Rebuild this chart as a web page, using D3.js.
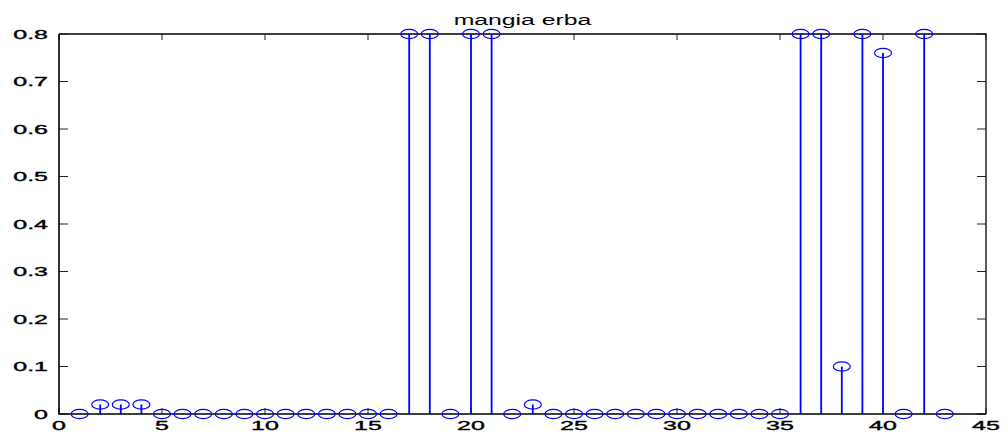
<!DOCTYPE html>
<html>
<head>
<meta charset="utf-8">
<script src="https://cdn.jsdelivr.net/npm/d3@7"></script>
<style>
  html, body { margin: 0; padding: 0; background: #fff; }
  svg { display: block; }
  text { font-family: "Liberation Sans", Arial, Helvetica, sans-serif; fill: #000; }
</style>
</head>
<body>
<svg id="chart" width="1008" height="433"></svg>
<script>
// Stem plot data: index 1..43 and their values
const indices = d3.range(1, 44);
const values = [
  0, 0.02, 0.02, 0.02, 0, 0, 0, 0, 0, 0,
  0, 0, 0, 0, 0, 0, 0.8, 0.8, 0, 0.8,
  0.8, 0, 0.02, 0, 0, 0, 0, 0, 0, 0,
  0, 0, 0, 0, 0, 0.8, 0.8, 0.1, 0.8, 0.76,
  0, 0.8, 0
];
const xTicks = [0, 5, 10, 15, 20, 25, 30, 35, 40, 45];
const yTicks = [0, 0.1, 0.2, 0.3, 0.4, 0.5, 0.6, 0.7, 0.8];
const yTickLabels = ["0", "0.1", "0.2", "0.3", "0.4", "0.5", "0.6", "0.7", "0.8"];
const titleText = "mangia erba";

const svg = d3.select("#chart");
const plotLeft = 59, plotRight = 986, plotTop = 34, plotBottom = 414;

const x = d3.scaleLinear().domain([0, 45]).range([plotLeft, plotRight]);
const y = d3.scaleLinear().domain([0, 0.8]).range([plotBottom, plotTop]);

const points = indices.map((i, k) => ({ i, v: values[k] }));

// Axis box (top and right sides) and inward ticks
svg.append("path")
  .attr("d", `M${plotLeft},${plotTop}H${plotRight}V${plotBottom}`)
  .attr("fill", "none").attr("stroke", "#000").attr("stroke-width", 1.3);

const tickG = svg.append("g").attr("stroke", "#222").attr("stroke-width", 1);
yTicks.forEach(t => {
  tickG.append("line").attr("x1", plotLeft).attr("x2", plotLeft + 9).attr("y1", y(t)).attr("y2", y(t));
  tickG.append("line").attr("x1", plotRight).attr("x2", plotRight - 9).attr("y1", y(t)).attr("y2", y(t));
});
xTicks.forEach(t => {
  tickG.append("line").attr("x1", x(t)).attr("x2", x(t)).attr("y1", plotBottom).attr("y2", plotBottom - 6);
  tickG.append("line").attr("x1", x(t)).attr("x2", x(t)).attr("y1", plotTop).attr("y2", plotTop + 6);
});

// Stems
const blue = "#0000ff";
svg.append("g").selectAll("line.stem")
  .data(points.filter(d => d.v !== 0))
  .join("line")
  .attr("class", "stem")
  .attr("x1", d => x(d.i)).attr("x2", d => x(d.i))
  .attr("y1", y(0)).attr("y2", d => y(d.v))
  .attr("stroke", blue).attr("stroke-width", 1.8);

// Left and bottom axis lines
svg.append("path")
  .attr("d", `M${plotLeft},${plotTop}V${plotBottom}H${plotRight}`)
  .attr("fill", "none").attr("stroke", "#000").attr("stroke-width", 1.6);

// Open circle markers
svg.append("g").selectAll("ellipse")
  .data(points)
  .join("ellipse")
  .attr("cx", d => x(d.i)).attr("cy", d => y(d.v))
  .attr("rx", 8.5).attr("ry", 4.6)
  .attr("fill", "none").attr("stroke", blue).attr("stroke-width", 1.2);

// Tick labels (wide, horizontally stretched lettering)
const labelSize = 12.5, labelStretch = 2.0;
yTicks.forEach((t, k) => {
  svg.append("text")
    .attr("transform", `translate(${plotLeft - 11},${y(t) + 4.8}) scale(${labelStretch},1)`)
    .attr("text-anchor", "end")
    .attr("font-size", labelSize)
    .attr("stroke", "#000").attr("stroke-width", 0.35)
    .text(yTickLabels[k]);
});
xTicks.forEach(t => {
  svg.append("text")
    .attr("transform", `translate(${x(t)},${plotBottom + 15.5}) scale(${labelStretch},1)`)
    .attr("text-anchor", "middle")
    .attr("font-size", labelSize)
    .attr("stroke", "#000").attr("stroke-width", 0.35)
    .text(String(t));
});

// Title
svg.append("text")
  .attr("transform", `translate(${(plotLeft + plotRight) / 2},${25}) scale(1.6,1)`)
  .attr("text-anchor", "middle")
  .attr("font-size", 15.5)
  .text(titleText);
</script>
</body>
</html>
